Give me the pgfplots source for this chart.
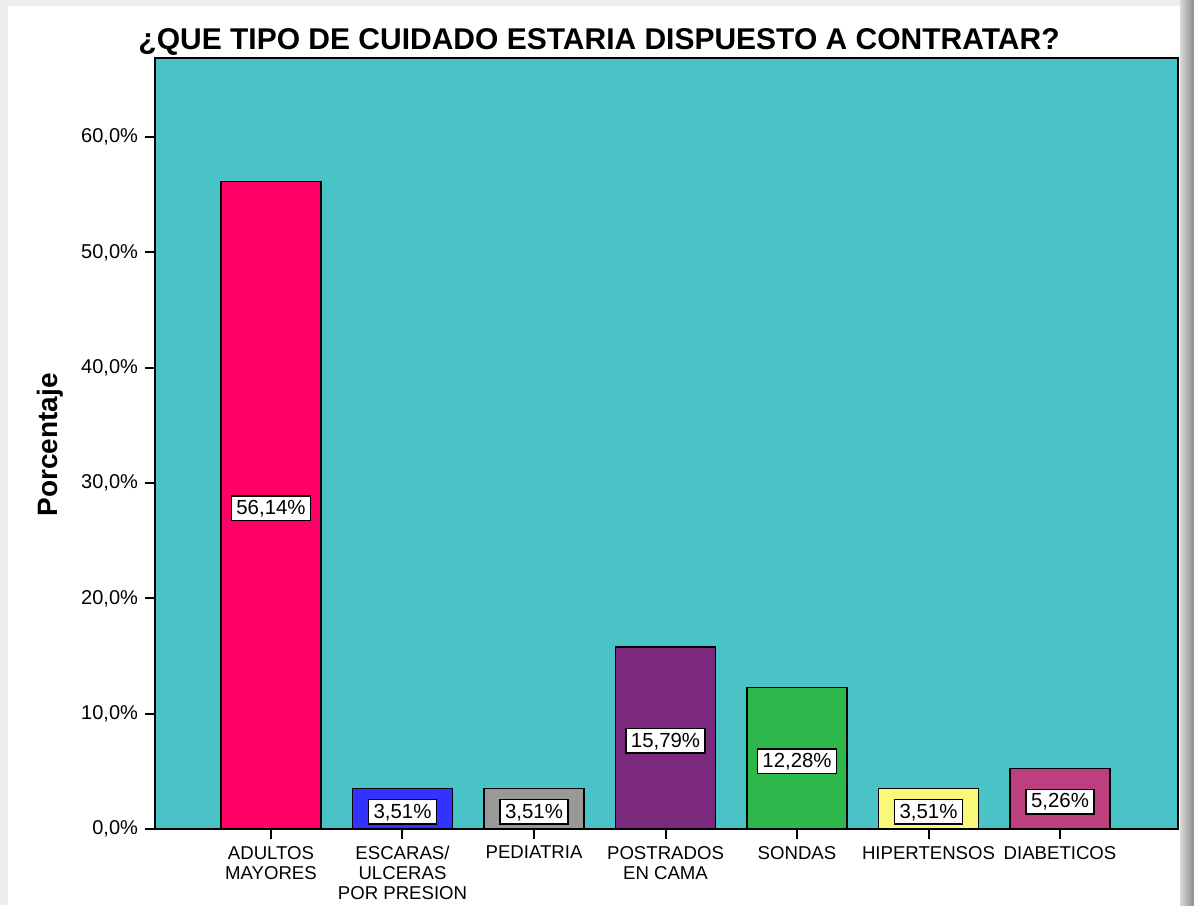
\documentclass[border=0pt]{standalone}
\usepackage{pgfplots}
\pgfplotsset{compat=1.18}
\usepackage{pgfplotstable}
\usepackage{fontspec}
\setmainfont{Liberation Sans}

\definecolor{bgteal}{HTML}{4AC3C7}
\definecolor{cAdul}{HTML}{FF0066}
\definecolor{cEsca}{HTML}{3333FF}
\definecolor{cPedi}{HTML}{999999}
\definecolor{cPost}{HTML}{7B297D}
\definecolor{cSond}{HTML}{2EB74A}
\definecolor{cHipe}{HTML}{FAF87A}
\definecolor{cDiab}{HTML}{BD3F7E}

% porcentaje por tipo de cuidado
\pgfplotstableread{
x y
0 56.14
1 3.51
2 3.51
3 15.79
4 12.28
5 3.51
6 5.26
}\cuidados

\begin{document}
\begin{tikzpicture}
\useasboundingbox (0,0) rectangle (597pt,452.5pt);
\fill[white] (0,0) rectangle (597pt,452.5pt);
\fill[black!7] (0,0) rectangle (4pt,452.5pt);
\fill[black!7] (0,449.5pt) rectangle (597pt,452.5pt);
\shade[left color=black!15, right color=black!45] (590pt,0) rectangle (597pt,452.5pt);

\begin{axis}[
  at={(77.5pt,38pt)}, anchor=south west,
  scale only axis, width=511.5pt, height=385.5pt,
  xmin=-0.882, xmax=6.897, ymin=0, ymax=66.85,
  axis background/.style={fill=bgteal},
  axis line style={line width=1pt},
  tick align=outside, major tick length=5pt,
  tick style={line width=1pt, black},
  xtick pos=left, ytick pos=left,
  xtick={0,...,6},
  xticklabels={{ADULTOS\\MAYORES},{ESCARAS/\\ULCERAS\\POR PRESION},PEDIATRIA,{POSTRADOS\\EN CAMA},SONDAS,HIPERTENSOS,DIABETICOS},
  xticklabel style={align=center, font=\fontsize{9.3}{10}\selectfont},
  ytick={0,10,...,60},
  yticklabels={{0,0\%},{10,0\%},{20,0\%},{30,0\%},{40,0\%},{50,0\%},{60,0\%}},
  yticklabel style={font=\fontsize{10}{12}\selectfont},
  /pgf/number format/assume math mode=true,
  every axis plot/.append style={bar width=50pt, bar shift=0pt},
]
\addplot[ybar, fill=cAdul, draw=black, line width=0.75pt] coordinates {(0,56.14)};
\addplot[ybar, fill=cEsca, draw=black, line width=0.75pt] coordinates {(1,3.51)};
\addplot[ybar, fill=cPedi, draw=black, line width=0.75pt] coordinates {(2,3.51)};
\addplot[ybar, fill=cPost, draw=black, line width=0.75pt] coordinates {(3,15.79)};
\addplot[ybar, fill=cSond, draw=black, line width=0.75pt] coordinates {(4,12.28)};
\addplot[ybar, fill=cHipe, draw=black, line width=0.75pt] coordinates {(5,3.51)};
\addplot[ybar, fill=cDiab, draw=black, line width=0.75pt] coordinates {(6,5.26)};
% etiquetas en el centro de cada barra
\addplot[only marks, mark=none, point meta=explicit,
  nodes near coords={\pgfmathprintnumber[fixed,fixed zerofill,precision=2,use comma]{\pgfplotspointmeta}\%},
  every node near coord/.append style={anchor=center, yshift=-1.5pt, fill=white, draw=black, line width=0.75pt,
    font=\fontsize{10.2}{12}\selectfont, inner xsep=2.5pt, inner ysep=2pt, text height=7.3pt, text depth=1pt}]
  table[x=x, y expr=\thisrow{y}/2, meta=y] {\cuidados};
\end{axis}

\node[anchor=base, font=\fontsize{15}{18}\bfseries\selectfont] at (299.5pt,427.5pt) {¿QUE TIPO DE CUIDADO ESTARIA DISPUESTO A CONTRATAR?};
\node[rotate=90, font=\fontsize{14}{16}\bfseries\selectfont] at (25pt,230pt) {Porcentaje};
\end{tikzpicture}
\end{document}
